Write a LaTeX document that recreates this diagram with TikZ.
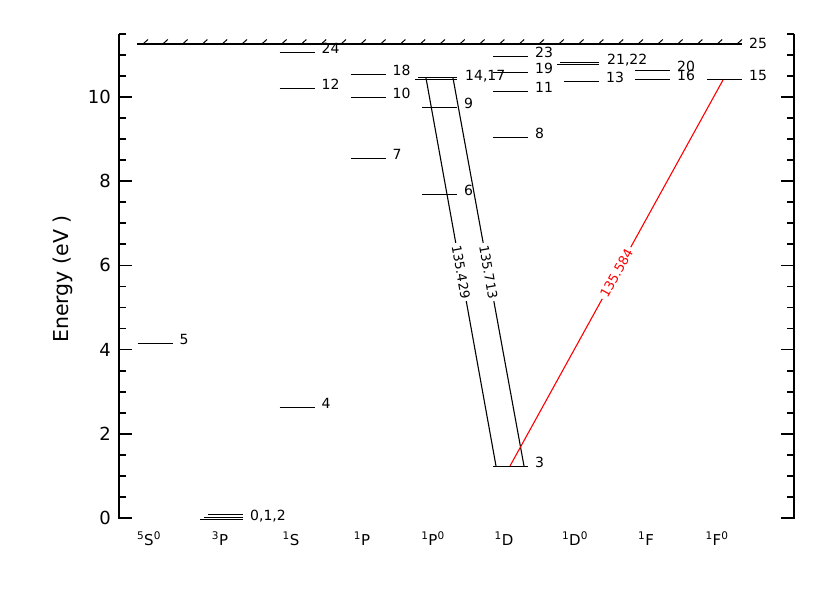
\documentclass[tikz,border=0pt]{standalone}
\usepackage{fontspec}
\setmainfont{DejaVu Sans}
\newcommand{\levl}[4]{%
  \draw[lvl] (#2-17.5,#3) coordinate (#1l) -- (#2+17.5,#3) coordinate (#1r);
  \node[lab] (#1t) at (#2+24.5,#3+1) {#4};
}
\tikzset{
  lvl/.style={line width=1pt},
  axisline/.style={line width=1.7pt},
  lab/.style={anchor=base west, inner sep=0pt, font=\fontsize{14}{14}\selectfont},
  ticklab/.style={anchor=east, inner sep=0pt, font=\fontsize{18}{18}\selectfont},
  collab/.style={anchor=base, inner sep=0pt, font=\fontsize{15}{15}\selectfont},
  trans/.style={line width=1.1pt},
  translab/.style={sloped, fill=white, inner sep=2.5pt, font=\fontsize{13}{13}\selectfont},
}
\begin{document}
\begin{tikzpicture}[x=1pt,y=-1pt]
\useasboundingbox (0,0) rectangle (830,596);
% axes
\draw[axisline] (119,34) -- (119,519);
\draw[axisline] (794,34) -- (794,519);
\foreach \e in {0,2,...,10} {
  \draw[axisline] (119,518-42.1*\e) -- ++(13,0);
  \draw[axisline] (794,518-42.1*\e) -- ++(-13,0);
  \node[ticklab] (t\e) at (111,518-42.1*\e) {\e};
}
\foreach \e in {0.5,1,1.5,2.5,3,3.5,4.5,5,5.5,6.5,7,7.5,8.5,9,9.5,10.5,11,11.5} {
  \draw[axisline] (119,518-42.1*\e) -- ++(7,0);
  \draw[axisline] (794,518-42.1*\e) -- ++(-7,0);
}
\node[rotate=90, inner sep=0pt, font=\fontsize{20.5}{20.5}\selectfont] (ylab) at (63,279) {Energy (eV )};
% column labels
\node[collab] (c1) at (149,545) {\textsuperscript{5}S\textsuperscript{0}};
\node[collab] (c2) at (220,545) {\textsuperscript{3}P};
\node[collab] (c3) at (291,545) {\textsuperscript{1}S};
\node[collab] (c4) at (362,545) {\textsuperscript{1}P};
\node[collab] (c5) at (433,545) {\textsuperscript{1}P\textsuperscript{0}};
\node[collab] (c6) at (504,545) {\textsuperscript{1}D};
\node[collab] (c7) at (575,545) {\textsuperscript{1}D\textsuperscript{0}};
\node[collab] (c8) at (646,545) {\textsuperscript{1}F};
\node[collab] (c9) at (717,545) {\textsuperscript{1}F\textsuperscript{0}};
% ionization limit
\draw[line width=1.7pt] (137,44) coordinate (ionl) -- (742,44) coordinate (ionr);
\foreach \i in {0,...,30} \draw[line width=1pt] (143+19.8*\i,44) -- ++(5,-4.5);
\node[lab] (l25) at (749,49) {25};
% ground term
\draw[line width=0.8pt] (200,519.5) -- (243,519.5);
\draw[line width=0.8pt] (204,517) -- (243,517);
\draw[line width=0.8pt] (208,514.5) -- (243,514.5);
\node[lab] (l012) at (250,520) {0,1,2};
% levels
\levl{L5}{155}{343}{5}
\levl{L4}{297}{407}{4}
\levl{L12}{297}{89}{12}
\levl{L24}{297}{53}{24}
\levl{L7}{368}{158.5}{7}
\levl{L10}{368}{97.5}{10}
\levl{L18}{368}{74.7}{18}
\levl{L6}{439.5}{194.5}{6}
\levl{L9}{439.5}{108}{9}
\levl{L3}{510.5}{466}{3}
\levl{L8}{510.5}{138}{8}
\levl{L11}{510.5}{91.7}{11}
\levl{L19}{510.5}{72.3}{19}
\levl{L23}{510.5}{57}{23}
\levl{L13}{581.5}{82}{13}
\levl{L16}{652.5}{80}{16}
\levl{L20}{652.5}{70.7}{20}
\levl{L15}{724.5}{80}{15}
% close pairs
\draw[lvl] (418,77.5) -- (457,77.5);
\draw[lvl] (415,80) -- (457,80);
\node[lab] (l1417) at (465,81) {14,17};
\draw[lvl] (560,62.5) -- (599,62.5);
\draw[lvl] (557,65) -- (599,65);
\node[lab] (l2122) at (607,65) {21,22};
% transitions
\coordinate (A1) at (426,78);
\coordinate (A2) at (496,466);
\coordinate (B1) at (453,78);
\coordinate (B2) at (524,466);
\coordinate (R1) at (510,466);
\coordinate (R2) at (723,80);
\draw[trans] (A1) -- node[translab] (tA) {135.429} (A2);
\draw[trans] (B1) -- node[translab] (tB) {135.713} (B2);
\draw[trans, red] (R1) -- node[translab, text=red] (tR) {135.584} (R2);
\end{tikzpicture}
\end{document}
